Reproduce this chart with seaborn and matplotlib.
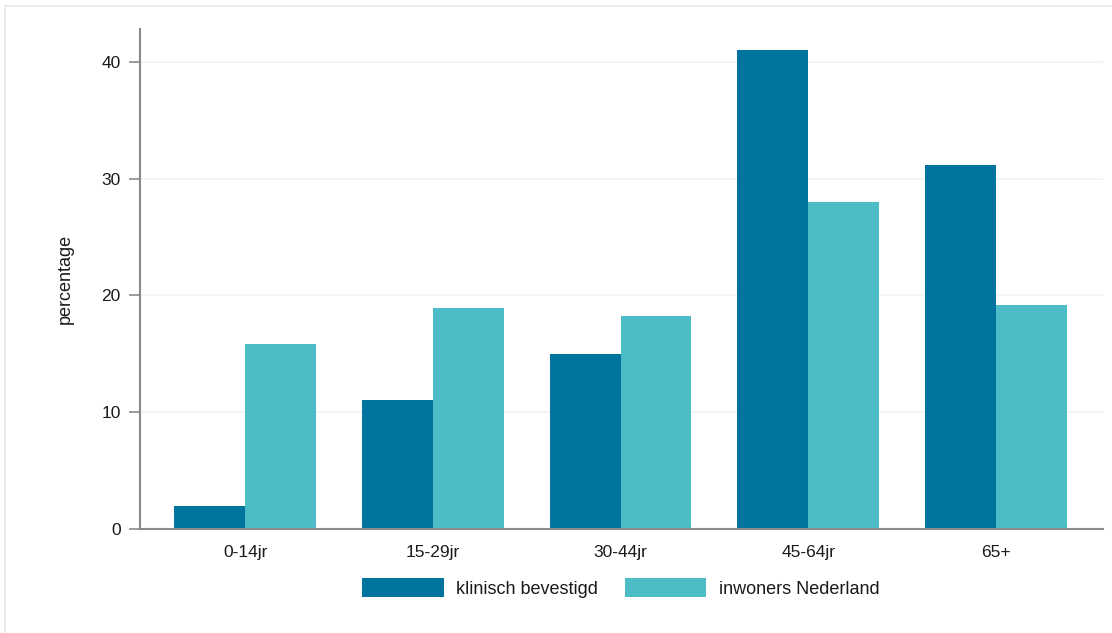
import numpy as np
import pandas as pd
import matplotlib.pyplot as plt
import seaborn as sns
from matplotlib.patches import Rectangle

leeftijd = ['0-14jr', '15-29jr', '30-44jr', '45-64jr', '65+']
klinisch = [2.0, 11.0, 15.0, 41.0, 31.2]
inwoners = [15.8, 18.9, 18.2, 28.0, 19.2]
groepen = ['klinisch bevestigd', 'inwoners Nederland']
kleuren = ['#00739f', '#4cbcc6']

df = pd.DataFrame({'leeftijd': leeftijd * 2,
                   'groep': [groepen[0]] * 5 + [groepen[1]] * 5,
                   'percentage': klinisch + inwoners})

sns.set_style('white')
plt.rcParams['font.family'] = ['Liberation Sans', 'DejaVu Sans']
plt.rcParams['text.color'] = '#1a1a1a'
plt.rcParams['xtick.color'] = '#1a1a1a'
plt.rcParams['ytick.color'] = '#1a1a1a'
plt.rcParams['axes.labelcolor'] = '#1a1a1a'

fig = plt.figure(figsize=(11.12, 6.33), dpi=100)
ax = fig.add_axes([0.1259, 0.1643, 0.9919 - 0.1259, 0.9542 - 0.1643])

# lichte rand om de figuur
fig.patches.append(Rectangle((5 / 1112, -0.01), 1.1, 1 - 6 / 633 + 0.01, transform=fig.transFigure,
                             fill=False, edgecolor='#e8edf0', linewidth=1.5))

sns.barplot(data=df, x='leeftijd', y='percentage', hue='groep', palette=kleuren,
            width=0.755, gap=0, saturation=1, linewidth=0, ax=ax, legend=False)

ax.set_xlim(-0.56, 4.57)
ax.set_ylim(0, 42.8)
ax.set_yticks([0, 10, 20, 30, 40])
ax.yaxis.grid(True, color='#edf3f6', linewidth=1.2)
ax.set_axisbelow(True)
for s in ['top', 'right']:
    ax.spines[s].set_visible(False)
for s in ['left', 'bottom']:
    ax.spines[s].set_color('#8a8a8a')
    ax.spines[s].set_linewidth(1.5)
ax.tick_params(axis='y', left=True, length=8, width=1.2, color='#8a8a8a', labelsize=12.5, pad=6)
ax.tick_params(axis='x', bottom=False, labelsize=12.5, pad=8)
ax.set_xlabel('')
ax.set_ylabel('percentage', fontsize=13, labelpad=20)

handles = [Rectangle((0, 0), 1, 1, facecolor=c, edgecolor='none') for c in kleuren]
fig.legend(handles, groepen, loc='center', bbox_to_anchor=(621 / 1112, 0.071), ncol=2,
           frameon=False, fontsize=13, handlelength=4.5, handleheight=1.2,
           handletextpad=0.7, columnspacing=1.5)

fig.savefig('out.png', dpi=100)
